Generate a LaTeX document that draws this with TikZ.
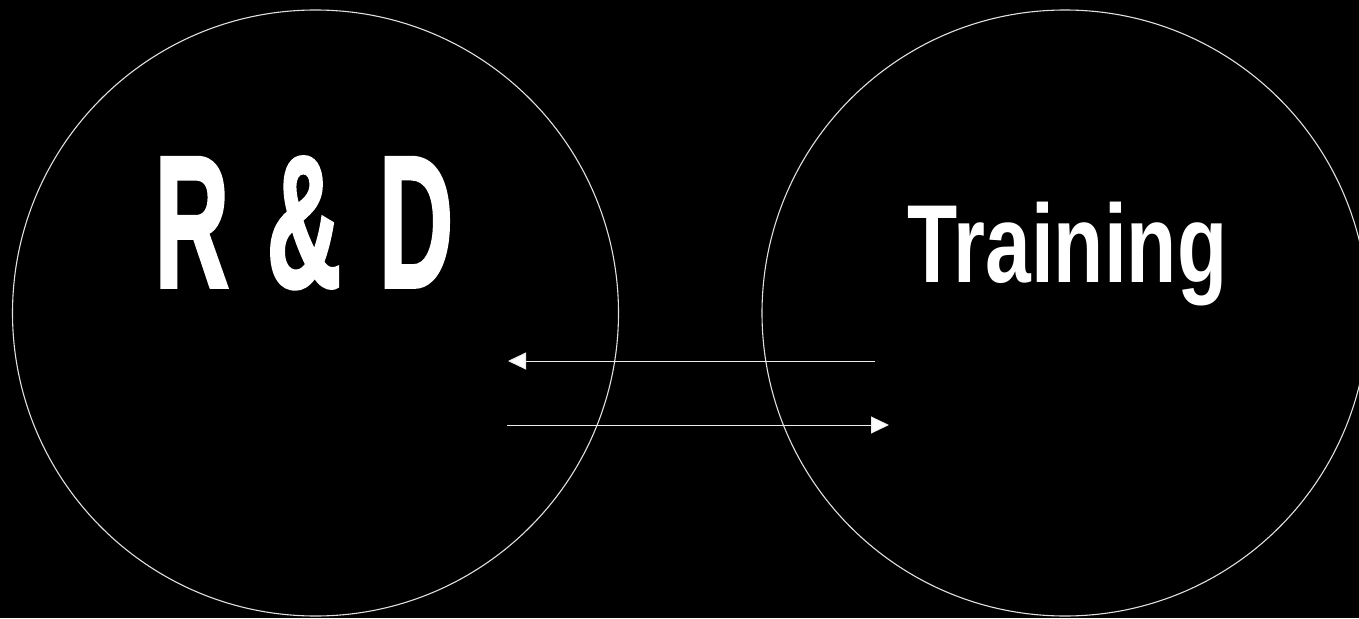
\documentclass[tikz,border=0pt]{standalone}
\usepackage{fontspec}
\usepackage{graphicx}
\setmainfont{Liberation Sans}
\newfontfamily\heavyfont[FakeBold=2]{Liberation Sans Bold}
\usetikzlibrary{arrows.meta}
\tikzset{
  ring/.style={draw=white!88!black, line width=1.1pt, circle, minimum size=606pt, inner sep=0pt},
  flow/.style={draw=white!92!black, line width=1pt, -{Triangle[length=18pt,width=17pt,fill=white]}},
  bigtext/.style={text=white, anchor=base, inner sep=0pt}
}
\begin{document}
\begin{tikzpicture}[x=1pt,y=-1pt]
  \fill[black] (0,0) rectangle (1359,618);
  \useasboundingbox (0,0) rectangle (1359,618);
  \node[ring] (rd) at (315.5,313) {};
  \node[ring] (tr) at (1065,313) {};
  \node[bigtext] (rdlabel) at (304,287) {\fontsize{188}{200}\heavyfont\scalebox{0.55}[1]{R\hspace{68pt}\&\hspace{68pt}D}};
  \node[bigtext] (trlabel) at (1067.5,282) {\fontsize{111}{120}\selectfont\bfseries\scalebox{0.74}[1]{Training}};
  \coordinate (topstart) at (875,361);
  \coordinate (topend) at (508,361);
  \coordinate (botstart) at (507,425);
  \coordinate (botend) at (889,425);
  \draw[flow] (topstart) -- (topend);
  \draw[flow] (botstart) -- (botend);
\end{tikzpicture}
\end{document}
